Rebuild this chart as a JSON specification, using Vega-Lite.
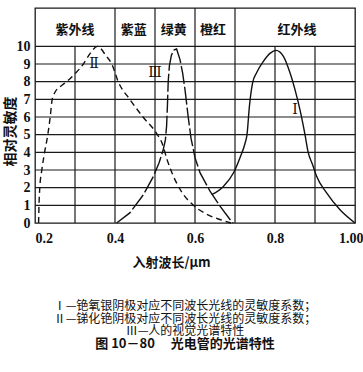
{
  "$schema": "https://vega.github.io/schema/vega-lite/v6.json",
  "width": 320,
  "height": 215,
  "autosize": {"type": "none"},
  "padding": {"left": 35, "top": 8, "right": 8, "bottom": 149},
  "background": "white",
  "config": {
    "view": {"stroke": "#1a1a1a", "strokeWidth": 1.3},
    "font": "Noto Sans CJK SC"
  },
  "title": {
    "text": ["Ⅰ—铯氧银阴极对应不同波长光线的灵敏度系数；", "Ⅱ—锑化铯阴极对应不同波长光线的灵敏度系数；", "Ⅲ—人的视觉光谱特性"],
    "subtitle": "图 10－80\u3000\u00a0光电管的光谱特性",
    "orient": "bottom",
    "anchor": "middle",
    "frame": "group",
    "offset": 32,
    "dx": -10,
    "font": "Noto Sans CJK SC",
    "fontSize": 12,
    "fontWeight": "normal",
    "lineHeight": 12.5,
    "color": "#111",
    "subtitleFont": "Noto Sans CJK SC",
    "subtitleFontSize": 13,
    "subtitleFontWeight": "bold",
    "subtitleColor": "#111",
    "subtitlePadding": 0
  },
  "datasets": {
    "hlines": [
      {"x": 0.2, "x2": 1.0, "y": 1}, {"x": 0.2, "x2": 1.0, "y": 2}, {"x": 0.2, "x2": 1.0, "y": 3},
      {"x": 0.2, "x2": 1.0, "y": 4}, {"x": 0.2, "x2": 1.0, "y": 5}, {"x": 0.2, "x2": 1.0, "y": 6},
      {"x": 0.2, "x2": 1.0, "y": 7}, {"x": 0.2, "x2": 1.0, "y": 8}, {"x": 0.2, "x2": 1.0, "y": 9},
      {"x": 0.2, "x2": 1.0, "y": 10}
    ],
    "vlines": [
      {"x": 0.3, "y": 0, "y2": 10},
      {"x": 0.4, "y": 0, "y2": 12.17},
      {"x": 0.5, "y": 0, "y2": 12.17},
      {"x": 0.6, "y": 0, "y2": 12.17},
      {"x": 0.7, "y": 0, "y2": 12.17},
      {"x": 0.8, "y": 0, "y2": 10},
      {"x": 0.9, "y": 0, "y2": 10}
    ],
    "c2": [
      {"x": 0.209, "y": 0}, {"x": 0.21, "y": 1}, {"x": 0.212, "y": 2}, {"x": 0.217, "y": 3},
      {"x": 0.224, "y": 4}, {"x": 0.232, "y": 5}, {"x": 0.238, "y": 6}, {"x": 0.243, "y": 7},
      {"x": 0.25, "y": 7.4}, {"x": 0.265, "y": 7.75}, {"x": 0.279, "y": 8.0}, {"x": 0.3, "y": 8.45},
      {"x": 0.321, "y": 9.0}, {"x": 0.338, "y": 9.6}, {"x": 0.356, "y": 10.0}, {"x": 0.378, "y": 9.45},
      {"x": 0.392, "y": 9.0}, {"x": 0.408, "y": 8.0}, {"x": 0.437, "y": 7.0}, {"x": 0.47, "y": 6.0},
      {"x": 0.503, "y": 5.1}, {"x": 0.518, "y": 4.5}, {"x": 0.53, "y": 3.6}, {"x": 0.545, "y": 2.7},
      {"x": 0.567, "y": 1.75}, {"x": 0.596, "y": 1.0}, {"x": 0.629, "y": 0.5}, {"x": 0.662, "y": 0.2},
      {"x": 0.69, "y": 0.0}
    ],
    "c3": [
      {"x": 0.404, "y": 0}, {"x": 0.437, "y": 0.57}, {"x": 0.471, "y": 1.6}, {"x": 0.496, "y": 2.64},
      {"x": 0.51, "y": 3.4}, {"x": 0.52, "y": 4.1}, {"x": 0.526, "y": 4.7}, {"x": 0.529, "y": 5.5},
      {"x": 0.531, "y": 6.6}, {"x": 0.533, "y": 8.0}, {"x": 0.536, "y": 8.9}, {"x": 0.541, "y": 9.5},
      {"x": 0.548, "y": 9.8}, {"x": 0.554, "y": 9.85}, {"x": 0.5625, "y": 9.25}, {"x": 0.569, "y": 8.5},
      {"x": 0.575, "y": 7.55}, {"x": 0.583, "y": 6.0}, {"x": 0.59, "y": 4.8}, {"x": 0.6, "y": 3.7},
      {"x": 0.6125, "y": 2.85}, {"x": 0.6375, "y": 1.8}, {"x": 0.6625, "y": 0.95}, {"x": 0.6875, "y": 0.2},
      {"x": 0.695, "y": 0}
    ],
    "c1": [
      {"x": 0.642, "y": 1.6}, {"x": 0.671, "y": 2.07}, {"x": 0.696, "y": 2.83}, {"x": 0.7125, "y": 3.7},
      {"x": 0.725, "y": 4.5}, {"x": 0.73, "y": 5.0}, {"x": 0.736, "y": 6.6}, {"x": 0.744, "y": 7.93},
      {"x": 0.754, "y": 8.5}, {"x": 0.771, "y": 9.15}, {"x": 0.7875, "y": 9.6}, {"x": 0.8025, "y": 9.77},
      {"x": 0.821, "y": 9.43}, {"x": 0.8375, "y": 8.5}, {"x": 0.85, "y": 7.55}, {"x": 0.8625, "y": 6.4},
      {"x": 0.875, "y": 5.0}, {"x": 0.883, "y": 4.0}, {"x": 0.894, "y": 3.3}, {"x": 0.904, "y": 2.64},
      {"x": 0.929, "y": 1.7}, {"x": 0.9625, "y": 0.75}, {"x": 1.0, "y": 0}
    ],
    "curvelabels": [
      {"x": 0.3475, "y": 9.0, "label": "Ⅱ"},
      {"x": 0.5, "y": 8.5, "label": "Ⅲ"},
      {"x": 0.85, "y": 6.4, "label": "Ⅰ"}
    ],
    "bands": [
      {"x": 0.3, "y": 10.95, "label": "紫外线"},
      {"x": 0.447, "y": 10.95, "label": "紫蓝"},
      {"x": 0.547, "y": 10.95, "label": "绿黄"},
      {"x": 0.645, "y": 10.95, "label": "橙红"},
      {"x": 0.855, "y": 10.95, "label": "红外线"}
    ]
  },
  "encoding": {
    "x": {
      "field": "x", "type": "quantitative",
      "scale": {"domain": [0.2, 1.0], "nice": false, "zero": false},
      "axis": {
        "values": [0.2, 0.4, 0.6, 0.8, 1.0],
        "labelExpr": "datum.value >= 0.99 ? '1.00' : format(datum.value, '.1f')",
        "labelAlign": {"condition": [{"test": "datum.value < 0.25", "value": "left"}, {"test": "datum.value > 0.99", "value": "right"}], "value": "center"},
        "labelOffset": {"condition": {"test": "datum.value > 0.99", "value": 8}, "value": 0},
        "grid": false, "ticks": false, "domain": false,
        "labelFont": "Liberation Serif", "labelFontSize": 14, "labelFontWeight": "bold",
        "labelColor": "#111", "labelPadding": 8,
        "title": "入射波长/μm",
        "titleFont": "Noto Sans CJK SC", "titleFontSize": 13, "titleFontWeight": "bold",
        "titleColor": "#111",
        "titleX": 136, "titleY": 39, "titleBaseline": "middle", "titleAlign": "center"
      }
    },
    "y": {
      "field": "y", "type": "quantitative",
      "scale": {"domain": [0, 12.17], "nice": false, "zero": false},
      "axis": {
        "values": [0, 1, 2, 3, 4, 5, 6, 7, 8, 9, 10],
        "grid": false,
        "ticks": false, "domain": false,
        "labelFont": "Liberation Serif", "labelFontSize": 14, "labelFontWeight": "bold",
        "labelColor": "#111", "labelPadding": 5,
        "title": "相对灵敏度",
        "titleFont": "Noto Sans CJK SC", "titleFontSize": 14, "titleFontWeight": "bold",
        "titleColor": "#111",
        "titleX": -25, "titleY": 123, "titleAngle": 270, "titleBaseline": "middle", "titleAlign": "center"
      }
    }
  },
  "layer": [
    {
      "data": {"name": "hlines"},
      "mark": {"type": "rule", "color": "#1a1a1a", "strokeWidth": 1.2},
      "encoding": {"x2": {"field": "x2"}}
    },
    {
      "data": {"name": "vlines"},
      "mark": {"type": "rule", "color": "#1a1a1a", "strokeWidth": 1.2},
      "encoding": {"y2": {"field": "y2"}}
    },
    {
      "data": {"name": "c2"},
      "mark": {"type": "line", "color": "#111", "strokeWidth": 1.4, "strokeDash": [6, 4], "interpolate": "monotone"},
      "encoding": {}
    },
    {
      "data": {"name": "c3"},
      "mark": {"type": "line", "color": "#111", "strokeWidth": 1.4, "strokeDash": [18, 3]},
      "encoding": {}
    },
    {
      "data": {"name": "c1"},
      "mark": {"type": "line", "color": "#111", "strokeWidth": 1.4, "interpolate": "monotone"},
      "encoding": {}
    },
    {
      "data": {"name": "curvelabels"},
      "mark": {"type": "text", "font": "DejaVu Serif", "fontSize": 14, "color": "#111", "align": "center", "baseline": "middle"},
      "encoding": {"text": {"field": "label"}}
    },
    {
      "data": {"name": "bands"},
      "mark": {"type": "text", "font": "Noto Sans CJK SC", "fontSize": 13, "fontWeight": "bold", "color": "#111", "align": "center", "baseline": "middle"},
      "encoding": {"text": {"field": "label"}}
    }
  ]
}
